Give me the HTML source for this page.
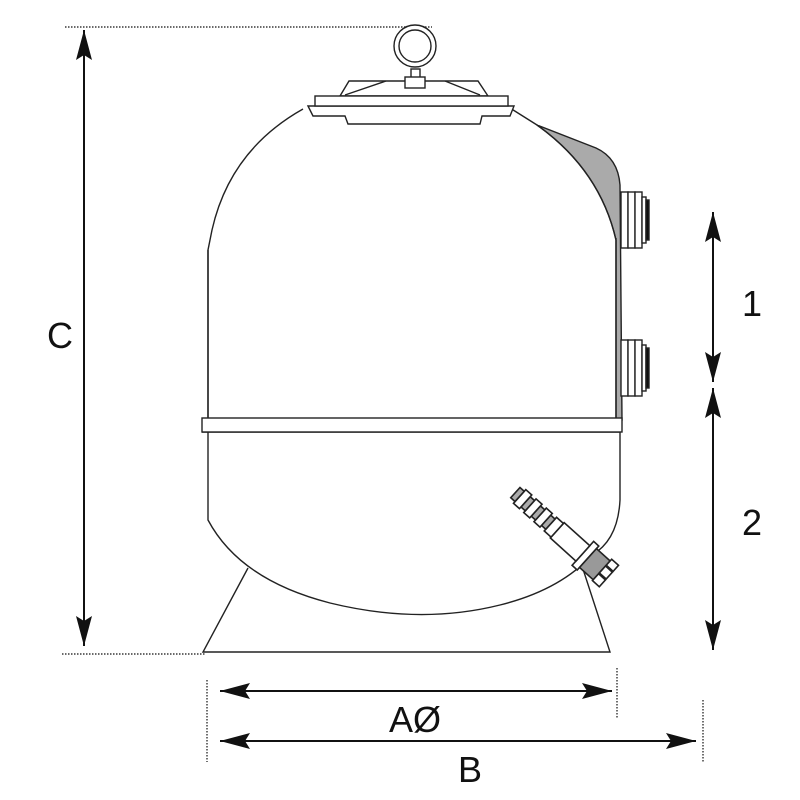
<!DOCTYPE html>
<html><head><style>html,body{margin:0;padding:0;background:#fff;}svg{display:block}</style></head>
<body>
<svg width="800" height="800" viewBox="0 0 800 800" xmlns="http://www.w3.org/2000/svg">
<defs>
<marker id="ah" viewBox="0 0 30 16" refX="30" refY="8" markerWidth="30" markerHeight="16" markerUnits="userSpaceOnUse" orient="auto-start-reverse">
<path d="M0,0 L30,8 L0,16 L5,8 Z" fill="#111"/>
</marker>
</defs>
<g stroke="#111" stroke-width="1.2" stroke-dasharray="1.5,1.5" fill="none">
<line x1="65" y1="27" x2="432" y2="27"/>
<line x1="62" y1="654" x2="205" y2="654"/>
<line x1="207" y1="680" x2="207" y2="762"/>
<line x1="617" y1="668" x2="617" y2="718"/>
<line x1="703" y1="700" x2="703" y2="762"/>
</g>
<g stroke="#111" stroke-width="2" fill="none">
<line x1="84" y1="30" x2="84" y2="646" marker-start="url(#ah)" marker-end="url(#ah)"/>
<line x1="713" y1="212" x2="713" y2="382" marker-start="url(#ah)" marker-end="url(#ah)"/>
<line x1="713" y1="388" x2="713" y2="650" marker-start="url(#ah)" marker-end="url(#ah)"/>
<line x1="220" y1="691" x2="612" y2="691" marker-start="url(#ah)" marker-end="url(#ah)"/>
<line x1="220" y1="741" x2="696" y2="741" marker-start="url(#ah)" marker-end="url(#ah)"/>
</g>
<g font-family="Liberation Sans, sans-serif" font-size="36" fill="#111" text-anchor="middle">
<text x="60" y="348">C</text>
<text x="752" y="316">1</text>
<text x="752" y="535">2</text>
<text x="415" y="732">AØ</text>
<text x="470" y="782">B</text>
</g>
<g stroke="#222" stroke-width="1.4" fill="#fff">
<path d="M248,568 L203,652 L610,652 L582,566"/>
<path d="M537,125 L596,148 Q618,158 620,185 L622,420 L616,420 L616,240 Q600,170 537,125 Z" fill="#aaa"/>
<path d="M303,109 Q230,150 212,230 L208,250 L208,520 Q240,580 330,603 Q420,625 500,605 Q560,590 592,555 Q618,540 620,500 L620,432 L202,432" fill="#fff"/>
<path d="M208,250 L208,418 M616,238 L616,418 M510,108 L537,125 Q600,170 616,240" fill="none"/>
<rect x="202" y="418" width="420" height="14"/>
<path d="M308,106 L313,116 L345,116 L348,124 L480,124 L482,116 L510,116 L514,106 Z"/>
<path d="M340,96 L349,81 L478,81 L488,96 Z"/>
<path d="M345,95 L386,81 M445,81 L480,95" fill="none"/>
<rect x="315" y="96" width="193" height="10"/>
<rect x="411" y="69" width="9" height="9"/>
<rect x="405" y="77" width="20" height="11"/>
<circle cx="415" cy="46" r="21"/>
<circle cx="415" cy="46" r="16"/>
<rect x="621" y="192" width="7" height="56"/>
<rect x="628" y="192" width="7" height="56"/>
<rect x="635" y="192" width="7" height="56"/>
<rect x="642" y="197" width="4" height="46"/>
<rect x="646" y="200" width="3" height="40" fill="#111"/>
<rect x="621" y="340" width="7" height="56"/>
<rect x="628" y="340" width="7" height="56"/>
<rect x="635" y="340" width="7" height="56"/>
<rect x="642" y="345" width="4" height="46"/>
<rect x="646" y="348" width="3" height="40" fill="#111"/>
<g transform="translate(588,558) rotate(-138) scale(1.15)">
<rect x="0" y="-14" width="6" height="28"/>
<rect x="6" y="-9" width="30" height="18"/>
<rect x="36" y="-8" width="8" height="16"/>
<rect x="44" y="-6" width="5" height="12" fill="#aaa"/>
<rect x="49" y="-8" width="7" height="16"/>
<rect x="56" y="-6" width="5" height="12" fill="#aaa"/>
<rect x="61" y="-8" width="7" height="16"/>
<rect x="68" y="-6" width="5" height="12" fill="#aaa"/>
<rect x="73" y="-8" width="7" height="16"/>
<rect x="80" y="-6" width="5" height="12" fill="#aaa"/>
<rect x="-16" y="-11" width="16" height="22" fill="#999"/>
<rect x="-24" y="-12" width="8" height="8"/>
<rect x="-24" y="-3" width="8" height="8"/>
<rect x="-24" y="6" width="8" height="7"/>
</g>
</g>
</svg>
</body></html>
